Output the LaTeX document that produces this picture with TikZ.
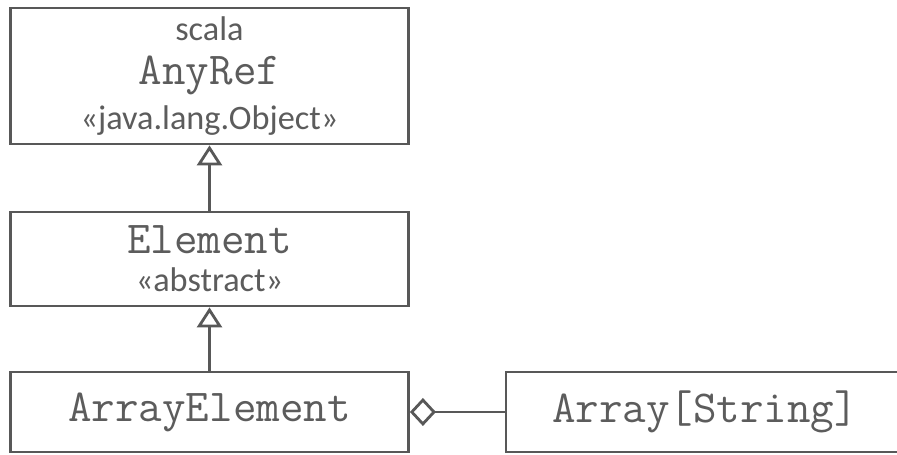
\documentclass[tikz,border=0pt]{standalone}
\usepackage{fontspec}
\setmainfont{Carlito}
\usetikzlibrary{positioning,arrows.meta}
\definecolor{linegray}{RGB}{88,88,88}
\definecolor{textgray}{RGB}{92,92,92}
\newcommand{\clsname}[1]{{\ttfamily\fontsize{26}{25}\selectfont #1}}
\newcommand{\stereo}[1]{{\fontsize{19.5}{25}\selectfont #1}}
\tikzset{
    classbox/.style={draw=linegray, line width=1.6pt, minimum width=7.96cm,
        align=center, text=textgray, inner sep=0pt},
    inherit/.style={draw=linegray, line width=1.6pt,
        -{Triangle[open, width=0.5cm, length=0.4cm]}},
    aggr/.style={draw=linegray, line width=1.6pt,
        -{Diamond[open, width=0.56cm, length=0.52cm]}},
}
\begin{document}
\begin{tikzpicture}[node distance=3cm, on grid]
    \useasboundingbox (0,0) rectangle (17.94,-9.10);
    \node[classbox, minimum height=2.72cm, font=\fontsize{20}{25.5}\selectfont] (anyref) at (4.19,-1.52)
        {\stereo{scala}\\ \clsname{AnyRef}\\ \stereo{«java.lang.Object»}};
    \node[classbox, minimum height=1.88cm, font=\fontsize{20}{21.5}\selectfont] (element) [below=3.66cm of anyref]
        {\clsname{Element}\\ \stereo{«abstract»}};
    \node[classbox, minimum height=1.60cm] (arrelem) [below=3.06cm of element]
        {\clsname{ArrayElement}};
    \node[classbox, minimum height=1.60cm] (arrstr) [right=9.91cm of arrelem]
        {\clsname{Array[String]}};
    % inheritance
    \draw[inherit] (element) -- (anyref);
    \draw[inherit] (arrelem) -- (element);
    % aggregation
    \draw[aggr] (arrstr) -- (arrelem);
\end{tikzpicture}
\end{document}
